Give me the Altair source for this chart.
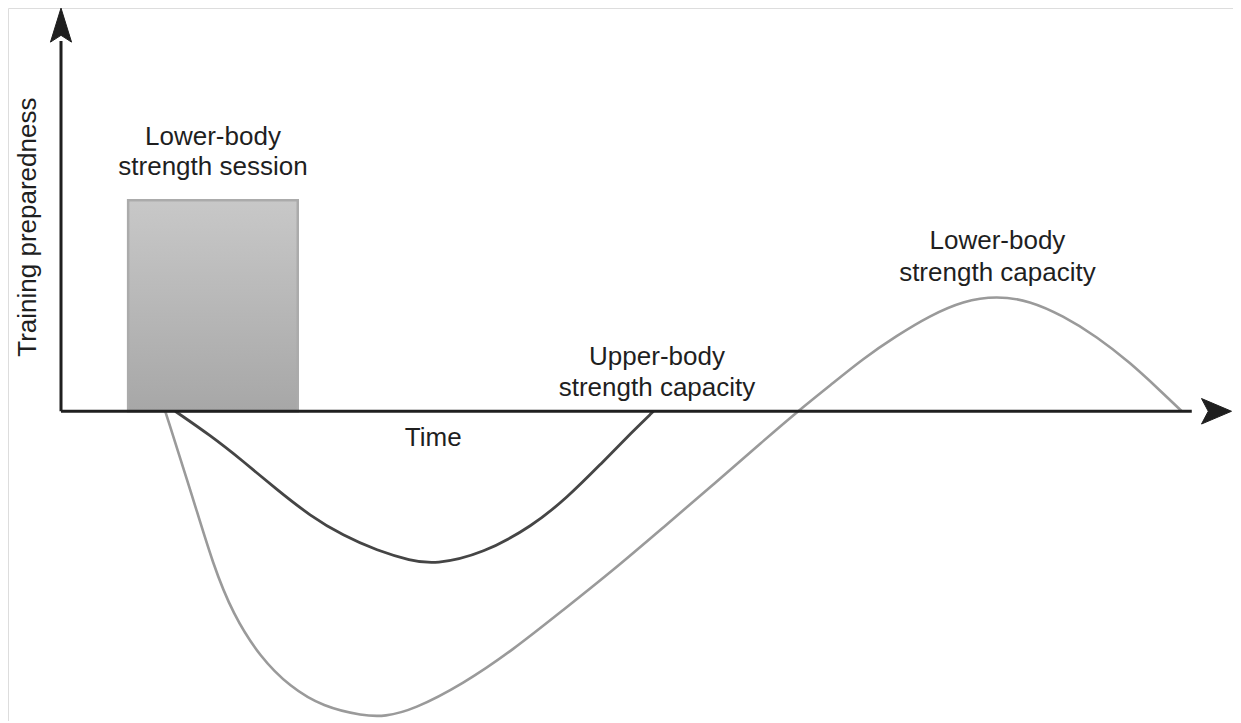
import altair as alt
import pandas as pd

# ---- data (time units on x, preparedness units on y) ----
upper_x = [9.7, 12.65, 15.45, 18.35, 21.15, 23.95, 26.85, 29.65, 31.75, 35.85, 40.05, 42.95, 45.75, 48.55, 50.3]
upper_y = [0, -6.0, -12.5, -19.75, -26.25, -31.25, -35.0, -37.5, -38.5, -35.75, -28.75, -21.75, -13.5, -5.0, 0]

lower_x = [8.85, 11.2, 12.9, 14.6, 16.9, 19.45, 22.25, 25.65, 27.5, 29.9, 34.15, 38.35,
           42.6, 46.85, 51.1, 55.35, 59.6, 62.55, 65.3, 68.1, 70.95, 73.75, 76.6, 79.45,
           82.25, 85.05, 87.95, 90.75, 93.3, 95.15]
lower_y = [0, -21.75, -38.5, -51.0, -61.75, -69.25, -74.25, -76.5, -76.7, -75.0, -68.5, -60.0,
           -50.0, -40.0, -29.25, -18.5, -7.5, 0, 6.5, 13.25, 19.0, 24.0, 27.75, 29.0,
           27.75, 24.0, 18.75, 12.25, 5.25, 0]

session_start = [5.7]
session_end = [20.1]
session_level = [53.0]

label_text = ["Lower-body", "strength session", "Upper-body", "strength capacity",
              "Lower-body", "strength capacity", "Time"]
label_x = [12.9, 12.9, 50.6, 50.6, 79.5, 79.5, 31.6]
label_y = [69.0, 61.25, 13.75, 5.75, 42.75, 34.75, -6.75]

X_DOM = [-4.5, 99.5]
Y_DOM = [-77.8, 101.3]

xs = alt.Scale(domain=X_DOM, nice=False, zero=False)
ys = alt.Scale(domain=Y_DOM, nice=False, zero=False)
noax = None

upper_df = pd.DataFrame({"t": upper_x, "v": upper_y})
lower_df = pd.DataFrame({"t": lower_x, "v": lower_y})
bar_df = pd.DataFrame({"t0": session_start, "t1": session_end, "v0": [0], "v1": session_level})
lab_df = pd.DataFrame({"t": label_x, "v": label_y, "txt": label_text})

FONT = "Liberation Sans"
INK = "#1f1f1f"

bar = alt.Chart(bar_df).mark_rect(
    fill=alt.Gradient(
        gradient="linear",
        stops=[alt.GradientStop(color="#c8c8c8", offset=0),
               alt.GradientStop(color="#a7a7a7", offset=1)],
        x1=0, x2=0, y1=0, y2=1,
    ),
    stroke="#ababab", strokeWidth=2.5,
).encode(
    x=alt.X("t0:Q", scale=xs, axis=noax), x2="t1:Q",
    y=alt.Y("v0:Q", scale=ys, axis=noax), y2="v1:Q",
)

lower = alt.Chart(lower_df).mark_line(
    color="#9a9a9a", strokeWidth=2.6, interpolate="basis"
).encode(
    x=alt.X("t:Q", scale=xs, axis=noax),
    y=alt.Y("v:Q", scale=ys, axis=noax),
    order="t:Q",
)

upper = alt.Chart(upper_df).mark_line(
    color="#454545", strokeWidth=2.8, interpolate="basis"
).encode(
    x=alt.X("t:Q", scale=xs, axis=noax),
    y=alt.Y("v:Q", scale=ys, axis=noax),
    order="t:Q",
)

# axes drawn as rules with arrowheads
xaxis_df = pd.DataFrame({"a": [0], "b": [96.0], "v": [0]})
yaxis_df = pd.DataFrame({"t": [0], "a": [0], "b": [93.0]})

x_rule = alt.Chart(xaxis_df).mark_rule(color=INK, strokeWidth=3).encode(
    x=alt.X("a:Q", scale=xs, axis=noax), x2="b:Q",
    y=alt.Y("v:Q", scale=ys, axis=noax),
)
y_rule = alt.Chart(yaxis_df).mark_rule(color=INK, strokeWidth=3).encode(
    x=alt.X("t:Q", scale=xs, axis=noax),
    y=alt.Y("a:Q", scale=ys, axis=noax), y2="b:Q",
)

up_arrow = "M0,-1 L0.62,1 L0,0.6 L-0.62,1 Z"
right_arrow = "M1,0 L-1,0.85 L-0.55,0 L-1,-0.85 Z"

y_head = alt.Chart(pd.DataFrame({"t": [0], "v": [97.0]})).mark_point(
    shape=up_arrow, filled=True, fill=INK, stroke=INK, strokeWidth=1,
    size=1156, opacity=1,
).encode(x=alt.X("t:Q", scale=xs, axis=noax), y=alt.Y("v:Q", scale=ys, axis=noax))

x_head = alt.Chart(pd.DataFrame({"t": [98.1], "v": [0]})).mark_point(
    shape=right_arrow, filled=True, fill=INK, stroke=INK, strokeWidth=1,
    size=900, opacity=1,
).encode(x=alt.X("t:Q", scale=xs, axis=noax), y=alt.Y("v:Q", scale=ys, axis=noax))

labels = alt.Chart(lab_df).mark_text(
    font=FONT, fontSize=26, color=INK, align="center", baseline="middle"
).encode(
    x=alt.X("t:Q", scale=xs, axis=noax),
    y=alt.Y("v:Q", scale=ys, axis=noax),
    text="txt:N",
)

ytitle = alt.Chart(pd.DataFrame({"t": [-2.8], "v": [46.25], "txt": ["Training preparedness"]})).mark_text(
    font=FONT, fontSize=26, color=INK, align="center", baseline="middle", angle=270
).encode(
    x=alt.X("t:Q", scale=xs, axis=noax),
    y=alt.Y("v:Q", scale=ys, axis=noax),
    text="txt:N",
)

chart = alt.layer(bar, lower, upper, x_rule, y_rule, y_head, x_head, labels, ytitle).properties(
    width=1225, height=713,
    autosize=alt.AutoSizeParams(type="none"),
    padding=0,
).configure_view(strokeWidth=0).configure(background="white")

chart.save("out.html", embed_options={"renderer": "svg", "actions": False})
